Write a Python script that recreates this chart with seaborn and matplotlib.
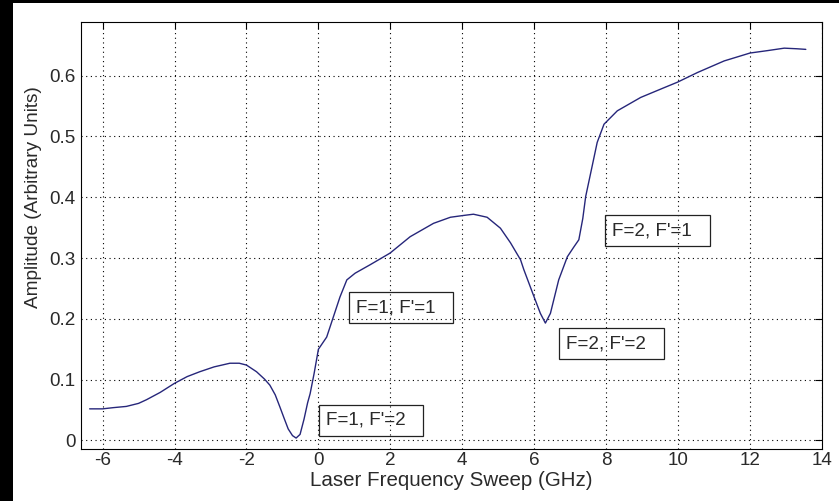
import matplotlib
matplotlib.use("Agg")
import matplotlib.pyplot as plt
from matplotlib.patches import Rectangle
import pandas as pd
import seaborn as sns

# Absorption sweep: laser detuning (GHz) vs. photodiode amplitude
freq_ghz = [
    -6.36, -6.0, -5.7, -5.34, -5.0, -4.78, -4.4, -4.0, -3.65, -3.30,
    -2.9, -2.46, -2.2, -2.0, -1.72, -1.5, -1.35, -1.2, -1.07, -0.95,
    -0.84, -0.72, -0.62, -0.51, -0.40, -0.30, -0.23, -0.12, 0.0, 0.23,
    0.415, 0.60, 0.79, 1.02, 1.44, 1.99, 2.55, 3.20, 3.67, 4.04,
    4.31, 4.69, 5.06, 5.34, 5.62, 5.71, 5.99, 6.17, 6.31, 6.45,
    6.68, 6.92, 7.10, 7.24, 7.35, 7.43, 7.61, 7.75, 7.94, 8.31,
    8.96, 9.61, 9.98, 10.54, 11.28, 12.0, 12.49, 12.95, 13.3, 13.55,
]
amplitude = [
    0.052, 0.052, 0.054, 0.056, 0.061, 0.067, 0.079, 0.094, 0.105, 0.113,
    0.121, 0.127, 0.127, 0.124, 0.113, 0.101, 0.091, 0.075, 0.055, 0.036,
    0.019, 0.008, 0.004, 0.010, 0.035, 0.062, 0.077, 0.110, 0.150, 0.170,
    0.203, 0.236, 0.264, 0.275, 0.289, 0.308, 0.335, 0.357, 0.367, 0.370,
    0.372, 0.367, 0.349, 0.325, 0.297, 0.281, 0.237, 0.209, 0.193, 0.209,
    0.264, 0.302, 0.318, 0.330, 0.365, 0.401, 0.451, 0.490, 0.520, 0.542,
    0.564, 0.580, 0.589, 0.605, 0.624, 0.637, 0.641, 0.645, 0.644, 0.643,
]

# Hyperfine transition labels and their positions (left edge, vertical centre)
transition_labels = ["F=1, F'=2", "F=1, F'=1", "F=2, F'=1", "F=2, F'=2"]
label_x = [0.21, 1.05, 8.17, 6.89]
label_y = [0.033, 0.218, 0.345, 0.159]

x_ticks = [-6, -4, -2, 0, 2, 4, 6, 8, 10, 12, 14]
y_ticks = [0, 0.1, 0.2, 0.3, 0.4, 0.5, 0.6]
y_tick_labels = ["0", "0.1", "0.2", "0.3", "0.4", "0.5", "0.6"]

sns.set_style("white")
plt.rcParams["font.family"] = ["Liberation Sans", "DejaVu Sans"]
plt.rcParams["font.size"] = 13.6

df = pd.DataFrame({"freq": freq_ghz, "amp": amplitude})

fig = plt.figure(figsize=(8.39, 5.01), dpi=100, facecolor="white")
ax = fig.add_axes([81 / 839, 52 / 501, 741 / 839, 427 / 501])
ax.set_facecolor("white")

sns.lineplot(data=df, x="freq", y="amp", ax=ax, color="#26267a",
             linewidth=1.0, sort=False)

ax.set_xlim(-6.6, 14)
ax.set_ylim(-0.014, 0.688)
ax.set_xticks(x_ticks)
ax.set_xticklabels([str(t) for t in x_ticks])
ax.set_yticks(y_ticks)
ax.set_yticklabels(y_tick_labels)

ax.grid(True, color="black", linestyle=(0, (1, 3.2)), linewidth=0.8)
for side in ["left", "right", "top", "bottom"]:
    ax.spines[side].set_visible(True)
    ax.spines[side].set_color("black")
    ax.spines[side].set_linewidth(0.8)
ax.tick_params(axis="both", which="major", direction="in", length=5,
               width=0.8, colors="black", labelcolor="#2a2a2a",
               top=True, right=True, labelsize=13.6)
ax.tick_params(axis="x", pad=2)
ax.tick_params(axis="y", pad=4)

ax.set_xlabel("Laser Frequency Sweep (GHz)", fontsize=14.8, color="#2a2a2a",
              labelpad=1.5)
ax.set_ylabel("Amplitude (Arbitrary Units)", fontsize=13.7, color="#2a2a2a")
ax.yaxis.set_label_coords(-0.053, 0.59)

for text, tx, ty in zip(transition_labels, label_x, label_y):
    ax.text(tx, ty, text + "  ", ha="left", va="center", fontsize=13.6,
            color="#2a2a2a",
            bbox=dict(boxstyle="square,pad=0.37", facecolor="none",
                      edgecolor="#222222", linewidth=0.9))

# dark frame along the left and top edges of the canvas
fig.patches.append(Rectangle((0, 0), 13 / 839, 1, transform=fig.transFigure,
                             facecolor="black", edgecolor="none", zorder=-1))
fig.patches.append(Rectangle((0, 498 / 501), 1, 3 / 501,
                             transform=fig.transFigure, facecolor="black",
                             edgecolor="none", zorder=-1))

fig.savefig("out.png", dpi=100, facecolor="white")
